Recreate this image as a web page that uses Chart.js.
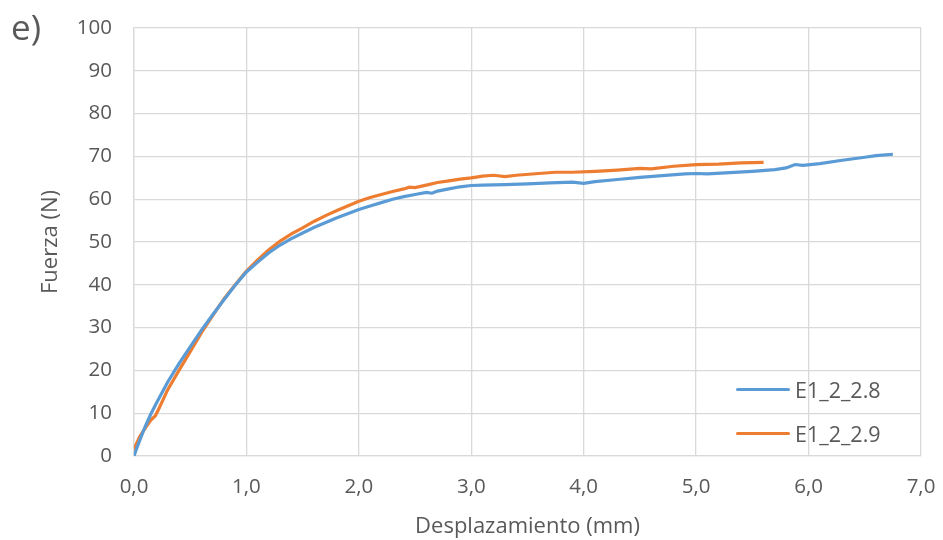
<!DOCTYPE html>
<html>
<head>
<meta charset="utf-8">
<script src="https://cdn.jsdelivr.net/npm/chart.js@4.4.1/dist/chart.umd.min.js"></script>
<style>
  html, body { margin: 0; padding: 0; background: #ffffff; }
  #wrap { position: relative; width: 943px; height: 540px; }
  #panel { position: absolute; left: 11px; top: 3px; font-family: "Open Sans", sans-serif; font-size: 35px; color: #595959; }
  #legend { position: absolute; left: 736px; top: 367px; font-family: "Open Sans", sans-serif; font-size: 21.5px; color: #595959; }
  .item { display: flex; align-items: center; height: 44px; }
  .swatch { width: 54px; height: 3px; border-radius: 2px; margin-right: 5px; }
</style>
</head>
<body>
<div id="wrap">
  <canvas id="c" width="943" height="540"></canvas>
  <div id="panel">e)</div>
  <div id="legend"></div>
</div>
<script>
// Displacement (mm) and force (N) pairs for each test
const dispA = [0.00,0.02,0.05,0.10,0.15,0.20,0.30,0.40,0.50,0.60,0.70,0.80,0.90,1.00,1.10,1.20,1.30,1.40,1.50,1.60,1.70,1.80,1.90,2.00,2.10,2.20,2.30,2.40,2.50,2.60,2.65,2.70,2.80,2.90,3.00,3.10,3.30,3.50,3.70,3.90,4.00,4.10,4.30,4.50,4.70,4.90,5.00,5.10,5.30,5.50,5.70,5.80,5.88,5.95,6.10,6.30,6.50,6.60,6.75];
const forceA = [0.0,1.5,3.6,6.9,9.8,12.4,17.3,21.6,25.5,29.4,33.0,36.5,39.9,43.0,45.3,47.5,49.3,50.8,52.1,53.4,54.5,55.6,56.6,57.6,58.4,59.2,60.0,60.6,61.1,61.6,61.4,61.9,62.4,62.9,63.2,63.3,63.4,63.6,63.8,64.0,63.7,64.1,64.6,65.1,65.5,65.9,66.0,65.9,66.2,66.5,66.9,67.3,68.1,67.9,68.3,69.1,69.8,70.2,70.5];

const dispB = [0.00,0.02,0.05,0.10,0.15,0.19,0.22,0.30,0.40,0.50,0.60,0.70,0.80,0.90,1.00,1.10,1.20,1.30,1.40,1.50,1.60,1.70,1.80,1.90,2.00,2.10,2.20,2.30,2.40,2.45,2.50,2.60,2.70,2.80,2.90,3.00,3.10,3.20,3.30,3.40,3.60,3.75,3.90,4.10,4.30,4.50,4.60,4.80,5.00,5.20,5.40,5.60];
const forceB = [1.5,2.8,4.5,6.5,8.4,9.4,11.0,15.5,20.0,24.4,28.8,32.8,36.7,40.0,43.2,45.8,48.2,50.2,51.9,53.3,54.8,56.1,57.3,58.4,59.5,60.4,61.1,61.8,62.4,62.8,62.7,63.3,63.9,64.3,64.7,65.0,65.4,65.6,65.3,65.6,66.0,66.3,66.3,66.5,66.8,67.2,67.1,67.7,68.1,68.2,68.5,68.6];

const seriesNames = ['E1_2_2.8', 'E1_2_2.9'];
const seriesColors = ['#5B9BD5', '#ED7D31'];
const xTickLabels = ['0,0','1,0','2,0','3,0','4,0','5,0','6,0','7,0'];
const yTickLabels = ['0','10','20','30','40','50','60','70','80','90','100'];

const toPoints = (xs, ys) => xs.map((x, i) => ({ x: x, y: ys[i] }));

const textColor = '#595959';
const gridColor = '#D9D9D9';
const tickFont = { family: 'Open Sans', size: 20.5 };
const titleFont = { family: 'Open Sans', size: 22 };

// Fixed scale sizes; label overflow is left to the outer padding
const fixSize = (prop, size) => (s) => {
  s[prop] = size;
  s.paddingTop = 0; s.paddingBottom = 0; s.paddingLeft = 0; s.paddingRight = 0;
};

new Chart(document.getElementById('c'), {
  type: 'line',
  data: {
    datasets: [
      { label: seriesNames[0], data: toPoints(dispA, forceA), borderColor: seriesColors[0], borderWidth: 3.2, pointRadius: 0, tension: 0 },
      { label: seriesNames[1], data: toPoints(dispB, forceB), borderColor: seriesColors[1], borderWidth: 3.2, pointRadius: 0, tension: 0 }
    ]
  },
  options: {
    responsive: false,
    animation: false,
    layout: { padding: { left: 38, right: 22, top: 28, bottom: 0 } },
    plugins: { legend: { display: false }, tooltip: { enabled: false } },
    scales: {
      x: {
        type: 'linear', min: 0, max: 7,
        ticks: { stepSize: 1, color: textColor, font: tickFont, padding: 19, maxRotation: 0,
                 callback: (v) => xTickLabels[Math.round(v)] },
        grid: { color: gridColor, lineWidth: 1.3, drawTicks: false },
        border: { color: gridColor, width: 1.3 },
        title: { display: true, text: 'Desplazamiento (mm)', color: textColor, font: titleFont, padding: { top: 2, bottom: 0 } },
        afterFit: fixSize('height', 84)
      },
      y: {
        type: 'linear', min: 0, max: 100,
        ticks: { stepSize: 10, color: textColor, font: tickFont, padding: 22,
                 callback: (v) => yTickLabels[Math.round(v / 10)] },
        grid: { color: gridColor, lineWidth: 1.3, drawTicks: false },
        border: { color: gridColor, width: 1.3 },
        title: { display: true, text: 'Fuerza (N)', color: textColor, font: titleFont, padding: { top: 0, bottom: 0 } },
        afterFit: fixSize('width', 96)
      }
    }
  }
});

// Legend drawn as HTML over the lower right of the plot
const legend = document.getElementById('legend');
seriesNames.forEach((name, i) => {
  const row = document.createElement('div');
  row.className = 'item';
  const sw = document.createElement('span');
  sw.className = 'swatch';
  sw.style.background = seriesColors[i];
  const label = document.createElement('span');
  label.textContent = name;
  row.appendChild(sw);
  row.appendChild(label);
  legend.appendChild(row);
});
</script>
</body>
</html>
